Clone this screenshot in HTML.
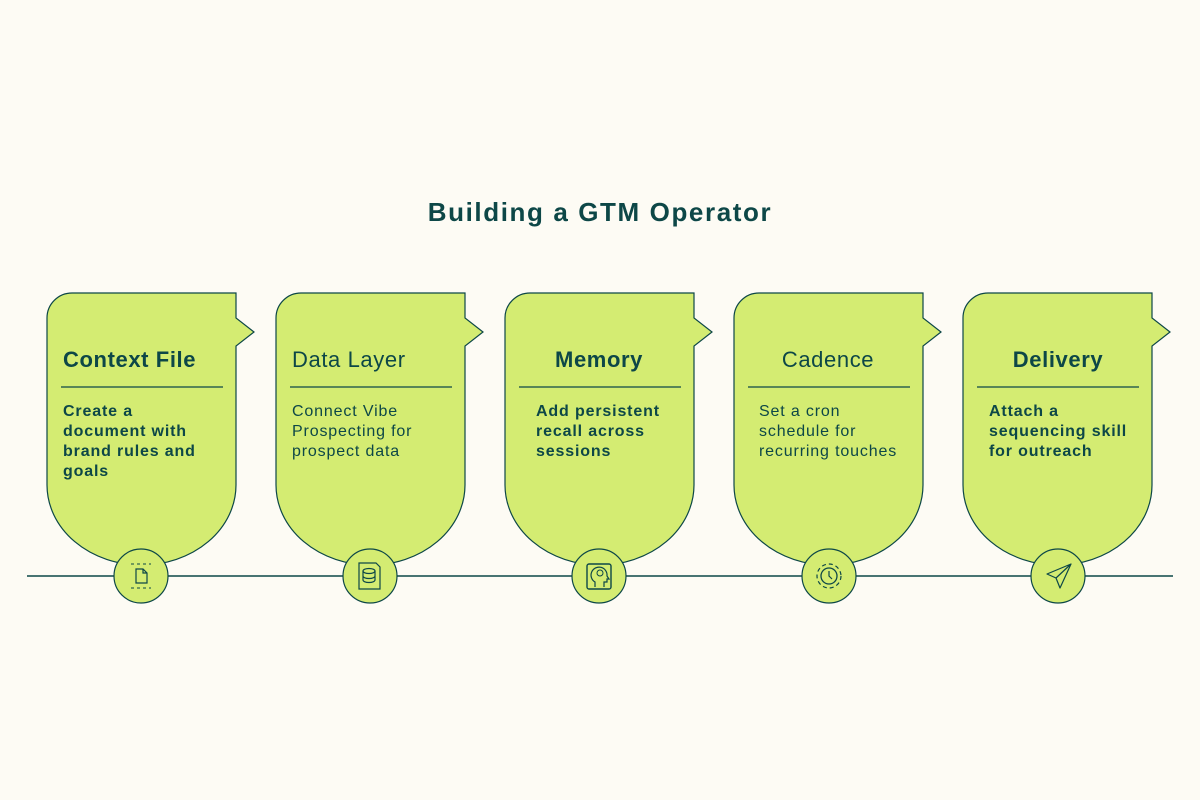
<!DOCTYPE html>
<html><head><meta charset="utf-8"><style>
html,body{margin:0;padding:0;background:#fdfbf4;}
svg{display:block;font-family:"Liberation Sans","Noto Sans CJK SC",sans-serif;}
.h{font-size:22px;fill:#0d4747;letter-spacing:0.6px;}
.b{font-size:16px;fill:#0d4747;letter-spacing:0.85px;}
</style></head><body>
<svg width="1200" height="800" viewBox="0 0 1200 800" xmlns="http://www.w3.org/2000/svg">
<rect width="1200" height="800" fill="#fdfbf4"/>
<text x="600" y="221" text-anchor="middle" font-size="26" font-weight="bold" fill="#0d4747" letter-spacing="1.6">Building a GTM Operator</text>
<line x1="27" y1="576" x2="1173" y2="576" stroke="#0d4747" stroke-width="1.5"/>
<defs>
<path id="card" d="M47,318 A25,25 0 0 1 72,293 L236,293 L236,318 L254,332 L236,346 L236,485 A94.5,80 0 0 1 47,485 Z" fill="#d4ec72" stroke="#0d4747" stroke-width="1.2"/>
</defs>
<g>
<use href="#card"/>
<circle cx="141" cy="576" r="27" fill="#d4ec72" stroke="#0d4747" stroke-width="1.2"/>
<line x1="61" y1="387" x2="223" y2="387" stroke="#0d4747" stroke-width="1.2"/>
<text class="h" x="63" y="367" font-weight="bold">Context File</text>
<text class="b" font-weight="bold"><tspan x="63" y="416">Create a</tspan><tspan x="63" y="436">document with</tspan><tspan x="63" y="456">brand rules and</tspan><tspan x="63" y="476">goals</tspan></text>
<path d="M136,569 h7 l4,4 v10 h-11z M143,569 v4 h4" fill="none" stroke="#0d4747" stroke-width="1.2"/>
<path d="M131,564 h20 M131,588 h20" stroke="#0d4747" stroke-width="1" stroke-dasharray="3 3"/>
</g>
<g transform="translate(229,0)">
<use href="#card"/>
<circle cx="141" cy="576" r="27" fill="#d4ec72" stroke="#0d4747" stroke-width="1.2"/>
<line x1="61" y1="387" x2="223" y2="387" stroke="#0d4747" stroke-width="1.2"/>
<text class="h" x="63" y="367">Data Layer</text>
<text class="b"><tspan x="63" y="416">Connect Vibe</tspan><tspan x="63" y="436">Prospecting for</tspan><tspan x="63" y="456">prospect data</tspan></text>
<path d="M130,563 h17 l4,4 v22 h-21z" fill="none" stroke="#0d4747" stroke-width="1.2"/>
<ellipse cx="140" cy="571" rx="6" ry="2.5" fill="none" stroke="#0d4747" stroke-width="1.2"/>
<path d="M134,571 v9 a6,2.5 0 0 0 12,0 v-9 M134,576 a6,2.5 0 0 0 12,0" fill="none" stroke="#0d4747" stroke-width="1.2"/>
</g>
<g transform="translate(458,0)">
<use href="#card"/>
<circle cx="141" cy="576" r="27" fill="#d4ec72" stroke="#0d4747" stroke-width="1.2"/>
<line x1="61" y1="387" x2="223" y2="387" stroke="#0d4747" stroke-width="1.2"/>
<text class="h" x="141" y="367" text-anchor="middle" font-weight="bold">Memory</text>
<text class="b" font-weight="bold"><tspan x="78" y="416">Add persistent</tspan><tspan x="78" y="436">recall across</tspan><tspan x="78" y="456">sessions</tspan></text>
<rect x="129" y="564" width="24" height="25" rx="2" fill="none" stroke="#0d4747" stroke-width="1.4"/>
<path d="M137,587 v-5 a8,8 0 1 1 12,-6 l2,3 h-2 v3 h-3 v5" fill="none" stroke="#0d4747" stroke-width="1.2"/>
<circle cx="142" cy="573" r="3" fill="none" stroke="#0d4747" stroke-width="1"/>
</g>
<g transform="translate(687,0)">
<use href="#card"/>
<circle cx="142" cy="576" r="27" fill="#d4ec72" stroke="#0d4747" stroke-width="1.2"/>
<line x1="61" y1="387" x2="223" y2="387" stroke="#0d4747" stroke-width="1.2"/>
<text class="h" x="141" y="367" text-anchor="middle">Cadence</text>
<text class="b"><tspan x="72" y="416">Set a cron</tspan><tspan x="72" y="436">schedule for</tspan><tspan x="72" y="456">recurring touches</tspan></text>
<circle cx="142" cy="576" r="8" fill="none" stroke="#0d4747" stroke-width="1.3"/>
<circle cx="142" cy="576" r="12" fill="none" stroke="#0d4747" stroke-width="1.2" stroke-dasharray="4 3"/>
<path d="M142,571 v5 l3,3" fill="none" stroke="#0d4747" stroke-width="1.2"/>
</g>
<g transform="translate(916,0)">
<use href="#card"/>
<circle cx="142" cy="576" r="27" fill="#d4ec72" stroke="#0d4747" stroke-width="1.2"/>
<line x1="61" y1="387" x2="223" y2="387" stroke="#0d4747" stroke-width="1.2"/>
<text class="h" x="142" y="367" text-anchor="middle" font-weight="bold">Delivery</text>
<text class="b" font-weight="bold"><tspan x="73" y="416">Attach a</tspan><tspan x="73" y="436">sequencing skill</tspan><tspan x="73" y="456">for outreach</tspan></text>
<path d="M131,574 L155,564 L144,588 L140,578 Z M140,578 L155,564" fill="none" stroke="#0d4747" stroke-width="1.2" stroke-linejoin="round"/>
</g>
</svg>
</body></html>
